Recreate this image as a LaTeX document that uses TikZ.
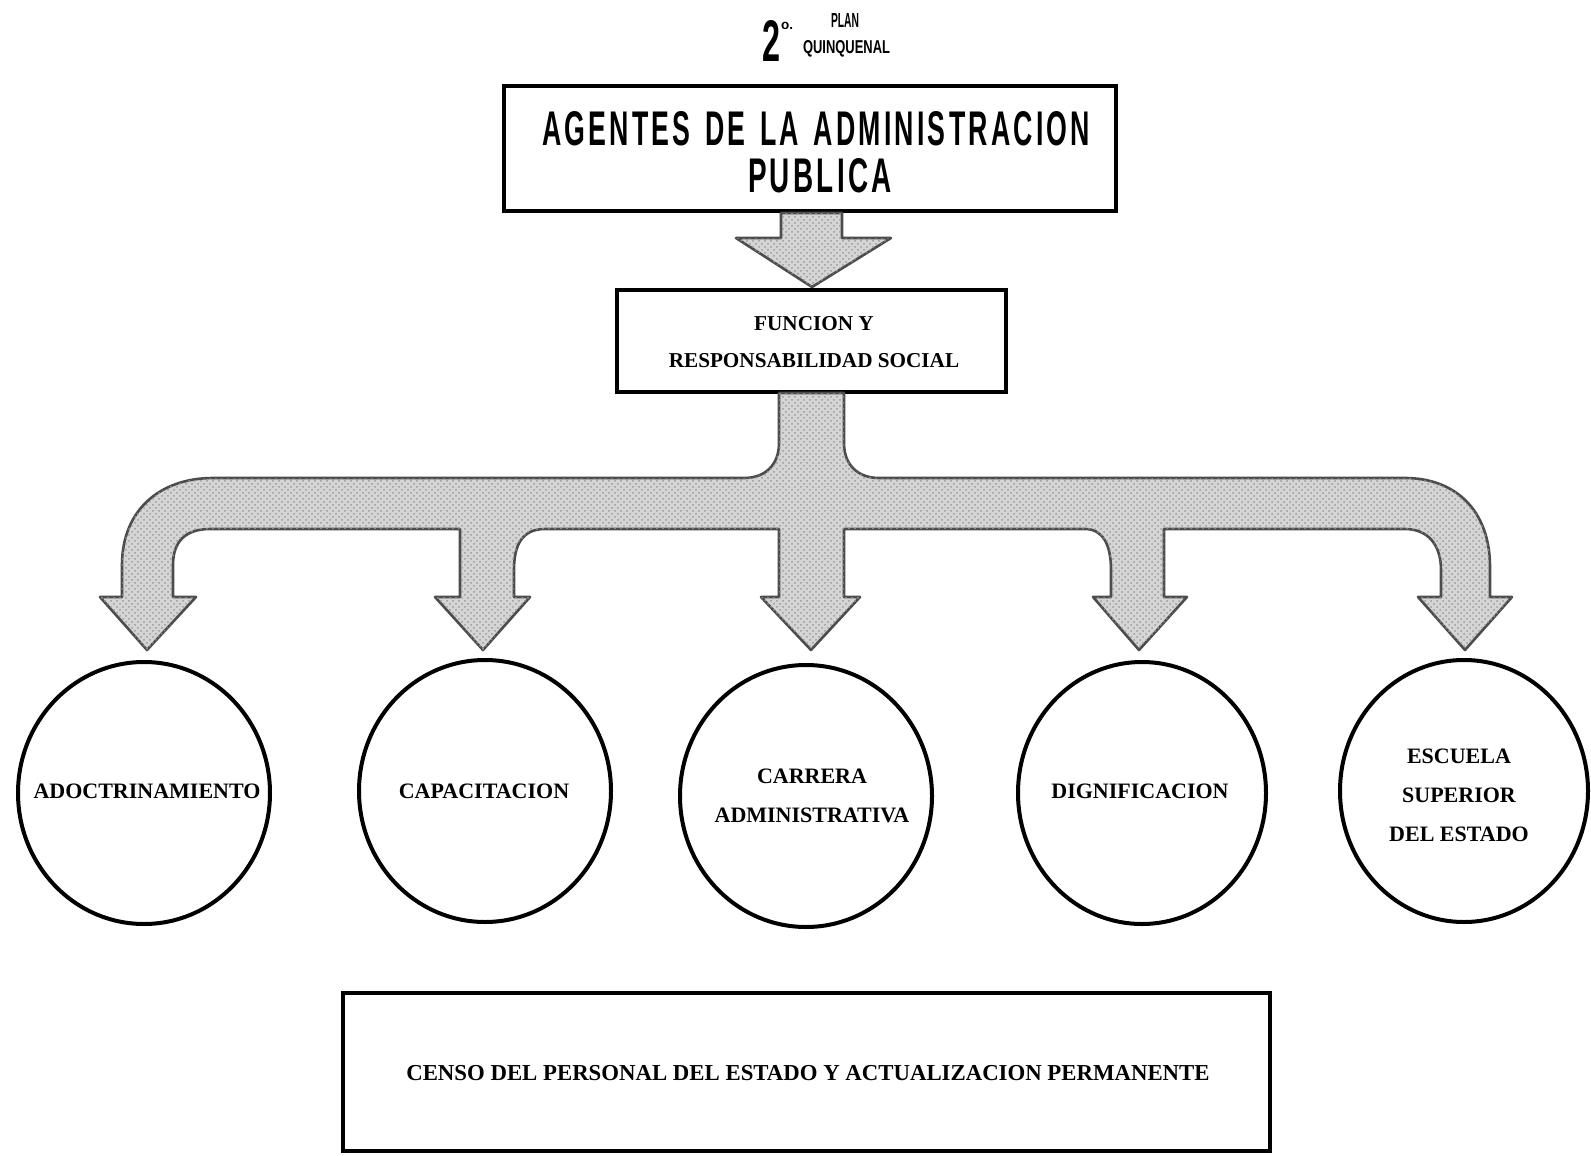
\documentclass[tikz,border=0pt]{standalone}
\usepackage{fontspec}
\setmainfont{Liberation Serif}
\newfontfamily\headfnt{Liberation Sans}[LetterSpace=12]
\newfontfamily\smallhead{Liberation Sans}
\usetikzlibrary{shapes.geometric,patterns}
\newcommand\wsp{\hspace{0.55em}}
\begin{document}
\begin{tikzpicture}[x=0.5pt,y=-0.5pt,
  lbl/.style={font=\bfseries\fontsize{11}{19.5}\selectfont, align=center, inner sep=0pt, text=black},
  frame/.style={draw=black, line width=2pt, inner sep=0pt},
  disc/.style={ellipse, draw=black, line width=2pt, inner sep=0pt, minimum width=126pt, minimum height=131pt},
  fat/.style={fill=gray!33, draw=black!70, line width=1.3pt, line join=round},
  grain/.style={pattern=crosshatch dots, pattern color=gray!80},
  hd/.style={inner sep=0pt, text=black}]
\useasboundingbox (0,0) rectangle (1591,1156);

% title
\node[hd] (two) at (771,41) {\resizebox{9pt}{20.5pt}{\smallhead\bfseries 2}};
\node[hd] (deg) at (787,26) {\resizebox{6pt}{!}{\smallhead\bfseries o.}};
\node[hd] (plan) at (845,20.5) {\resizebox{14pt}{7pt}{\smallhead\bfseries PLAN}};
\node[hd] (quin) at (846.5,49) {\resizebox{43.5pt}{6.5pt}{\smallhead\bfseries QUINQUENAL}};

% main box
\node[frame, line width=2.2pt, minimum width=306pt, minimum height=62.5pt] (agentes) at (810,148.5) {};
\node[hd] (ag1) at (816,129) {\resizebox{274pt}{17pt}{\headfnt\bfseries AGENTES\wsp DE\wsp LA\wsp ADMINISTRACION}};
\node[hd] (ag2) at (820,176) {\resizebox{72pt}{17pt}{\headfnt\bfseries PUBLICA}};

% first fat arrow
\def\topar{(781,213) -- (781,238) -- (736,238) -- (812,287) -- (891,238) -- (842,238) -- (842,213) -- cycle}
\path[fat] \topar;
\path[grain] \topar;

% function box
\node[frame, line width=1.7pt, minimum width=194.5pt, minimum height=51pt] (funcion) at (811.5,341) {};
\node[lbl, font=\bfseries\fontsize{10.6}{18.5}\selectfont] (ftxt) at (814,342) {FUNCION Y\\RESPONSABILIDAD SOCIAL};

% branching fat arrow
\def\tree{(779,393) -- (779,443) .. controls (779,465) and (765,478) .. (744,478)
  -- (213,478) .. controls (160,478) and (122,510) .. (122,565)
  -- (122,597) -- (100,597) -- (147,650) -- (196,597) -- (173,597)
  -- (173,565) .. controls (173,542) and (185,529) .. (210,529)
  -- (460,529) -- (460,597) -- (435,597) -- (483,650) -- (530,597) -- (514,597)
  -- (514,570) .. controls (514,545) and (522,529) .. (545,529)
  -- (779,529) -- (779,597) -- (761,597) -- (811,650) -- (860,597) -- (844,597)
  -- (844,529) -- (1085,529) .. controls (1103,529) and (1111,545) .. (1111,570)
  -- (1111,597) -- (1093,597) -- (1139,650) -- (1187,597) -- (1164,597)
  -- (1164,529) -- (1405,529) .. controls (1428,529) and (1441,545) .. (1441,570)
  -- (1441,597) -- (1418,597) -- (1465,650) -- (1512,597) -- (1490,597)
  -- (1490,567) .. controls (1490,510) and (1455,478) .. (1405,478)
  -- (879,478) .. controls (858,478) and (844,465) .. (844,443)
  -- (844,393) -- cycle}
\path[fat] \tree;
\path[grain] \tree;

% circles
\node[disc] (c1) at (144,793) {};
\node[disc] (c2) at (485,791) {};
\node[disc] (c3) at (806,796) {};
\node[disc, minimum width=124pt] (c4) at (1142,793) {};
\node[disc, minimum width=124pt] (c5) at (1464,791) {};

\node[lbl] (l1) at (147,791) {ADOCTRINAMIENTO};
\node[lbl] (l2) at (484,791) {CAPACITACION};
\node[lbl] (l3) at (812,795.5) {CARRERA\\ADMINISTRATIVA};
\node[lbl] (l4) at (1140,791) {DIGNIFICACION};
\node[lbl] (l5) at (1459,795) {ESCUELA\\SUPERIOR\\DEL ESTADO};

% bottom box
\node[frame, minimum width=463.5pt, minimum height=79pt] (censo) at (806.5,1071.5) {};
\node[lbl, font=\bfseries\fontsize{11.4}{14}\selectfont] (ctxt) at (808,1073) {CENSO DEL PERSONAL DEL ESTADO Y ACTUALIZACION PERMANENTE};
\end{tikzpicture}
\end{document}
